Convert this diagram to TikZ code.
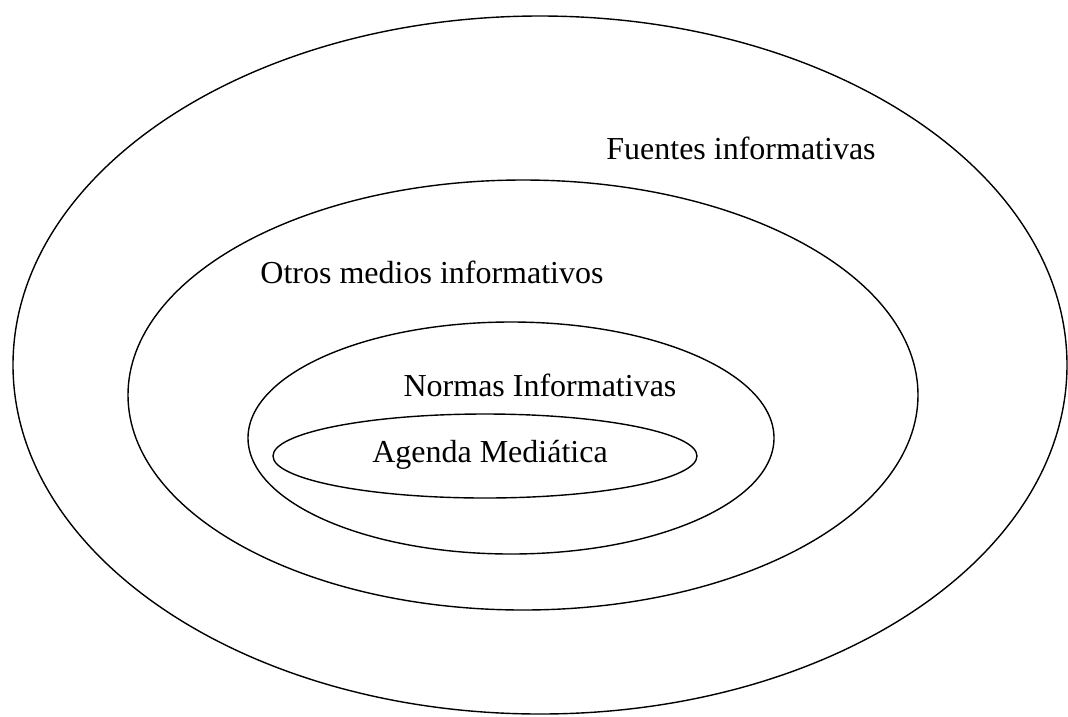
\documentclass[tikz,border=0pt]{standalone}
\usepackage{fontspec}
\setmainfont{Liberation Serif}
\usetikzlibrary{positioning}
\tikzset{
  ring/.style={line width=1.4pt, draw=black},
  ringlabel/.style={inner sep=0pt, font=\fontsize{32}{38}\selectfont}
}

\begin{document}
\begin{tikzpicture}[x=1pt, y=-1pt]
    \useasboundingbox (0, 0) rectangle (1068, 716);
    % Frames
    \draw[ring] (540, 365) ellipse (527 and 349);
    \draw[ring] (523, 395) ellipse (395 and 215);
    \draw[ring] (511, 438) ellipse (263 and 116);
    \draw[ring] (485, 456) ellipse (212 and 42);

    % Labels
    \node[ringlabel] (fuentes) at (741, 148) {Fuentes informativas};
    \node[ringlabel] (otros) at (432, 272) {Otros medios informativos};
    \node[ringlabel] (normas) at (540, 385) {Normas Informativas};
    \node[ringlabel] (agenda) at (490, 455) {Agenda Mediática};
\end{tikzpicture}
\end{document}
